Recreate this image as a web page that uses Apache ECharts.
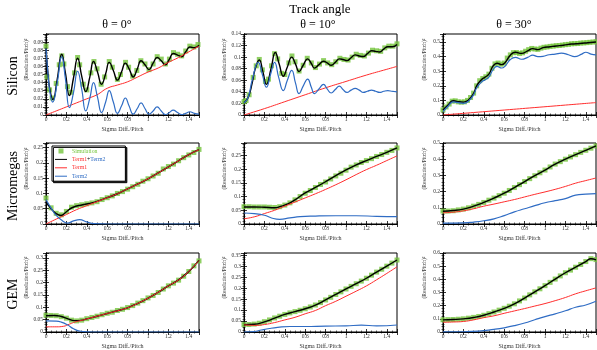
<!DOCTYPE html>
<html>
<head>
<meta charset="utf-8">
<script src="https://cdn.jsdelivr.net/npm/echarts@6/dist/echarts.min.js"></script>
<style>
html, body { margin: 0; padding: 0; background: #fff; }
#main { width: 597px; height: 350px; }
</style>
</head>
<body>
<div id="main"></div>
<script>
// ---- Silicon ----
var siTh0Sim = [[0,0.085],[0.01,0.047],[0.035,0.031],[0.06,0.021],[0.1,0.039],[0.13,0.062],[0.155,0.073],[0.175,0.063],[0.21,0.035],[0.245,0.028],[0.28,0.052],[0.31,0.071],[0.33,0.062],[0.365,0.038],[0.4,0.031],[0.44,0.052],[0.47,0.066],[0.5,0.057],[0.54,0.038],[0.575,0.047],[0.62,0.066],[0.65,0.059],[0.7,0.044],[0.73,0.05],[0.78,0.065],[0.81,0.059],[0.85,0.048],[0.89,0.055],[0.93,0.067],[0.97,0.063],[1.01,0.056],[1.05,0.063],[1.09,0.072],[1.13,0.069],[1.17,0.063],[1.21,0.069],[1.25,0.077],[1.29,0.075],[1.33,0.073],[1.37,0.079],[1.41,0.085],[1.45,0.084],[1.49,0.087]];
var siTh0Tot = [[0,0.082],[0.02,0.05],[0.04,0.03],[0.068,0.019],[0.11,0.044],[0.154,0.075],[0.19,0.052],[0.23,0.024],[0.27,0.046],[0.31,0.070],[0.35,0.048],[0.39,0.029],[0.43,0.047],[0.466,0.066],[0.505,0.053],[0.545,0.038],[0.585,0.051],[0.62,0.065],[0.66,0.055],[0.70,0.043],[0.74,0.053],[0.778,0.064],[0.815,0.057],[0.855,0.047],[0.895,0.057],[0.932,0.067],[0.97,0.062],[1.01,0.056],[1.05,0.064],[1.09,0.071],[1.13,0.067],[1.17,0.062],[1.21,0.069],[1.247,0.076],[1.29,0.074],[1.33,0.072],[1.37,0.078],[1.41,0.084],[1.455,0.083],[1.5,0.086]];
var siTh0T1 = [[0,0],[0.1,0.005],[0.2,0.010],[0.3,0.015],[0.4,0.020],[0.5,0.025],[0.6,0.033],[0.7,0.037],[0.8,0.041],[0.9,0.047],[1.0,0.053],[1.1,0.058],[1.2,0.065],[1.3,0.071],[1.4,0.078],[1.5,0.085]];
var siTh0T2 = [[0,0.082],[0.02,0.05],[0.04,0.027],[0.065,0.016],[0.11,0.04],[0.154,0.072],[0.19,0.045],[0.23,0.009],[0.27,0.028],[0.31,0.054],[0.35,0.032],[0.39,0.005],[0.43,0.021],[0.466,0.040],[0.505,0.022],[0.545,0.003],[0.585,0.016],[0.62,0.030],[0.66,0.016],[0.70,0.002],[0.74,0.011],[0.778,0.021],[0.815,0.011],[0.855,0.001],[0.895,0.008],[0.932,0.015],[0.97,0.008],[1.01,0.001],[1.05,0.005],[1.09,0.010],[1.13,0.005],[1.17,0.0005],[1.21,0.003],[1.247,0.006],[1.29,0.003],[1.33,0.0005],[1.37,0.002],[1.41,0.004],[1.455,0.002],[1.5,0.001]];

var siTh10Sim = [[0,0.023],[0.02,0.025],[0.05,0.035],[0.09,0.065],[0.12,0.085],[0.15,0.096],[0.18,0.078],[0.21,0.058],[0.24,0.062],[0.27,0.085],[0.3,0.106],[0.33,0.097],[0.37,0.072],[0.4,0.07],[0.44,0.09],[0.47,0.102],[0.5,0.092],[0.54,0.076],[0.58,0.086],[0.62,0.098],[0.66,0.09],[0.7,0.082],[0.74,0.088],[0.78,0.094],[0.82,0.09],[0.86,0.087],[0.9,0.092],[0.94,0.098],[0.98,0.096],[1.02,0.095],[1.06,0.1],[1.1,0.105],[1.14,0.103],[1.18,0.102],[1.22,0.107],[1.26,0.112],[1.3,0.111],[1.34,0.11],[1.38,0.116],[1.42,0.119],[1.46,0.119],[1.5,0.123]];
var siTh10Tot = [[0,0.021],[0.04,0.03],[0.08,0.055],[0.11,0.08],[0.15,0.095],[0.185,0.075],[0.22,0.053],[0.265,0.08],[0.307,0.108],[0.345,0.088],[0.385,0.067],[0.425,0.083],[0.468,0.100],[0.505,0.088],[0.54,0.075],[0.58,0.086],[0.624,0.097],[0.66,0.089],[0.69,0.081],[0.735,0.087],[0.78,0.093],[0.815,0.09],[0.855,0.086],[0.895,0.091],[0.935,0.097],[0.97,0.096],[1.01,0.094],[1.05,0.099],[1.09,0.104],[1.13,0.102],[1.17,0.101],[1.21,0.106],[1.25,0.111],[1.29,0.11],[1.33,0.109],[1.37,0.114],[1.41,0.118],[1.455,0.118],[1.5,0.122]];
var siTh10T1 = [[0,0],[0.2,0.011],[0.4,0.023],[0.6,0.035],[0.8,0.047],[1.0,0.058],[1.2,0.069],[1.4,0.079],[1.5,0.084]];
var siTh10T2 = [[0,0.021],[0.04,0.03],[0.08,0.06],[0.14,0.091],[0.18,0.07],[0.22,0.048],[0.26,0.07],[0.30,0.091],[0.34,0.065],[0.385,0.042],[0.425,0.06],[0.468,0.077],[0.505,0.055],[0.54,0.037],[0.58,0.05],[0.624,0.062],[0.66,0.048],[0.69,0.037],[0.735,0.045],[0.78,0.053],[0.815,0.045],[0.855,0.038],[0.895,0.044],[0.935,0.050],[0.97,0.044],[1.01,0.039],[1.05,0.043],[1.09,0.046],[1.13,0.043],[1.17,0.039],[1.21,0.041],[1.25,0.043],[1.29,0.041],[1.33,0.039],[1.37,0.041],[1.41,0.042],[1.455,0.041],[1.5,0.040]];

var siTh30Sim = [[0,0.035],[0.03,0.055],[0.06,0.075],[0.09,0.095],[0.12,0.097],[0.15,0.09],[0.18,0.088],[0.21,0.09],[0.24,0.1],[0.27,0.12],[0.3,0.15],[0.33,0.2],[0.36,0.235],[0.39,0.25],[0.42,0.262],[0.45,0.28],[0.48,0.32],[0.51,0.35],[0.54,0.356],[0.57,0.348],[0.6,0.356],[0.63,0.39],[0.66,0.412],[0.69,0.427],[0.72,0.428],[0.75,0.422],[0.78,0.426],[0.81,0.437],[0.84,0.448],[0.87,0.456],[0.9,0.452],[0.93,0.45],[0.96,0.458],[0.99,0.464],[1.02,0.466],[1.05,0.47],[1.08,0.472],[1.11,0.475],[1.14,0.476],[1.17,0.479],[1.2,0.482],[1.23,0.484],[1.26,0.488],[1.29,0.489],[1.32,0.49],[1.35,0.493],[1.38,0.494],[1.41,0.496],[1.44,0.498],[1.47,0.5],[1.5,0.502]];
var siTh30Tot = [[0,0.034],[0.05,0.068],[0.1,0.098],[0.134,0.093],[0.2,0.088],[0.25,0.103],[0.3,0.148],[0.33,0.2],[0.38,0.244],[0.41,0.258],[0.45,0.28],[0.49,0.335],[0.53,0.355],[0.575,0.345],[0.61,0.36],[0.66,0.41],[0.71,0.43],[0.77,0.422],[0.83,0.44],[0.88,0.455],[0.93,0.448],[0.98,0.462],[1.05,0.468],[1.11,0.473],[1.18,0.478],[1.26,0.486],[1.34,0.49],[1.42,0.495],[1.5,0.5]];
var siTh30T1 = [[0,0],[0.3,0.017],[0.6,0.034],[0.9,0.051],[1.2,0.068],[1.5,0.085]];
var siTh30T2 = [[0,0.023],[0.05,0.06],[0.1,0.09],[0.134,0.087],[0.2,0.08],[0.25,0.095],[0.3,0.138],[0.33,0.185],[0.38,0.228],[0.41,0.24],[0.45,0.26],[0.49,0.31],[0.53,0.333],[0.575,0.322],[0.61,0.336],[0.66,0.38],[0.71,0.395],[0.77,0.382],[0.83,0.395],[0.88,0.41],[0.93,0.4],[0.98,0.402],[1.04,0.413],[1.1,0.417],[1.16,0.424],[1.23,0.413],[1.29,0.40],[1.36,0.417],[1.40,0.43],[1.45,0.417],[1.5,0.412]];

// ---- Micromegas ----
var mmTh0Sim = [[0,0.085],[0.05,0.053],[0.1,0.035],[0.15,0.03],[0.2,0.041],[0.25,0.055],[0.3,0.06],[0.35,0.063],[0.4,0.066],[0.45,0.069],[0.5,0.073],[0.55,0.08],[0.6,0.086],[0.65,0.092],[0.7,0.1],[0.75,0.106],[0.8,0.114],[0.85,0.122],[0.9,0.13],[0.95,0.14],[1.0,0.148],[1.05,0.157],[1.1,0.166],[1.15,0.18],[1.2,0.188],[1.25,0.196],[1.3,0.207],[1.35,0.217],[1.4,0.226],[1.45,0.234],[1.5,0.244]];
var mmTh0Tot = [[0,0.072],[0.05,0.05],[0.1,0.034],[0.147,0.028],[0.2,0.04],[0.26,0.054],[0.36,0.063],[0.47,0.071],[0.6,0.086],[0.7,0.099],[0.8,0.115],[0.9,0.131],[1.0,0.148],[1.1,0.167],[1.2,0.187],[1.3,0.207],[1.4,0.227],[1.5,0.243]];
var mmTh0T1 = [[0,0],[0.1,0.016],[0.2,0.031],[0.3,0.047],[0.4,0.06],[0.5,0.073],[0.6,0.086],[0.7,0.099],[0.8,0.115],[0.9,0.131],[1.0,0.148],[1.1,0.167],[1.2,0.187],[1.3,0.207],[1.4,0.227],[1.5,0.243]];
var mmTh0T2 = [[0,0.08],[0.05,0.052],[0.1,0.028],[0.16,0.011],[0.21,0.003],[0.27,0.01],[0.33,0.014],[0.4,0.007],[0.47,0.001],[0.6,0],[1.5,0]];

var mmTh10Sim = [[0,0.063],[0.05,0.063],[0.1,0.062],[0.15,0.062],[0.2,0.062],[0.25,0.061],[0.3,0.06],[0.35,0.063],[0.4,0.069],[0.45,0.077],[0.5,0.088],[0.55,0.1],[0.6,0.112],[0.65,0.122],[0.7,0.133],[0.75,0.144],[0.8,0.153],[0.85,0.164],[0.9,0.175],[0.95,0.185],[1.0,0.196],[1.05,0.207],[1.1,0.215],[1.15,0.224],[1.2,0.231],[1.25,0.238],[1.3,0.246],[1.35,0.253],[1.4,0.261],[1.45,0.268],[1.5,0.277]];
var mmTh10Tot = [[0,0.062],[0.1,0.062],[0.2,0.061],[0.3,0.059],[0.36,0.064],[0.43,0.073],[0.5,0.088],[0.6,0.113],[0.7,0.133],[0.8,0.154],[0.9,0.176],[1.0,0.197],[1.1,0.215],[1.2,0.231],[1.3,0.246],[1.4,0.261],[1.5,0.277]];
var mmTh10T1 = [[0,0.019],[0.1,0.026],[0.2,0.038],[0.3,0.05],[0.4,0.065],[0.5,0.08],[0.6,0.095],[0.7,0.11],[0.8,0.126],[0.9,0.143],[1.0,0.161],[1.1,0.18],[1.2,0.198],[1.3,0.214],[1.4,0.231],[1.5,0.248]];
var mmTh10T2 = [[0,0.04],[0.1,0.038],[0.2,0.032],[0.27,0.022],[0.35,0.017],[0.45,0.022],[0.55,0.027],[0.7,0.029],[0.9,0.03],[1.1,0.03],[1.3,0.028],[1.5,0.027]];

var mmTh30Sim = [[0,0.08],[0.05,0.08],[0.1,0.082],[0.15,0.087],[0.2,0.092],[0.25,0.1],[0.3,0.11],[0.35,0.121],[0.4,0.133],[0.45,0.147],[0.5,0.16],[0.55,0.175],[0.6,0.19],[0.65,0.207],[0.7,0.225],[0.75,0.243],[0.8,0.262],[0.85,0.28],[0.9,0.298],[0.95,0.316],[1.0,0.333],[1.05,0.352],[1.1,0.37],[1.15,0.385],[1.2,0.4],[1.25,0.414],[1.3,0.428],[1.35,0.442],[1.4,0.455],[1.45,0.468],[1.5,0.482]];
var mmTh30Tot = [[0,0.079],[0.1,0.083],[0.2,0.092],[0.3,0.11],[0.4,0.133],[0.5,0.16],[0.6,0.19],[0.7,0.225],[0.8,0.262],[0.9,0.298],[1.0,0.333],[1.1,0.37],[1.2,0.4],[1.3,0.428],[1.4,0.455],[1.5,0.482]];
var mmTh30T1 = [[0,0.069],[0.1,0.073],[0.2,0.081],[0.3,0.094],[0.4,0.11],[0.5,0.123],[0.6,0.137],[0.7,0.151],[0.8,0.167],[0.9,0.183],[1.0,0.198],[1.1,0.214],[1.2,0.232],[1.3,0.252],[1.4,0.268],[1.5,0.284]];
var mmTh30T2 = [[0,0.006],[0.1,0.006],[0.2,0.007],[0.3,0.012],[0.4,0.02],[0.5,0.032],[0.6,0.052],[0.7,0.075],[0.8,0.094],[0.9,0.113],[1.0,0.131],[1.1,0.144],[1.2,0.157],[1.3,0.178],[1.4,0.184],[1.5,0.187]];

// ---- GEM ----
var gemTh0Sim = [[0,0.068],[0.05,0.067],[0.1,0.066],[0.15,0.062],[0.2,0.056],[0.25,0.048],[0.3,0.045],[0.35,0.048],[0.4,0.054],[0.45,0.059],[0.5,0.064],[0.55,0.07],[0.6,0.076],[0.65,0.08],[0.7,0.087],[0.75,0.092],[0.8,0.099],[0.85,0.107],[0.9,0.117],[0.95,0.127],[1.0,0.138],[1.05,0.148],[1.1,0.16],[1.15,0.174],[1.2,0.187],[1.25,0.198],[1.3,0.21],[1.35,0.226],[1.4,0.245],[1.45,0.268],[1.5,0.288]];
var gemTh0Tot = [[0,0.066],[0.08,0.067],[0.15,0.063],[0.21,0.054],[0.28,0.046],[0.34,0.047],[0.4,0.053],[0.5,0.064],[0.6,0.075],[0.7,0.086],[0.8,0.098],[0.9,0.116],[1.0,0.137],[1.1,0.161],[1.2,0.187],[1.3,0.211],[1.4,0.245],[1.5,0.29]];
var gemTh0T1 = [[0,0.021],[0.1,0.021],[0.17,0.023],[0.23,0.032],[0.29,0.041],[0.35,0.047],[0.4,0.053],[0.5,0.064],[0.6,0.075],[0.7,0.086],[0.8,0.098],[0.9,0.116],[1.0,0.137],[1.1,0.161],[1.2,0.187],[1.3,0.211],[1.4,0.245],[1.5,0.29]];
var gemTh0T2 = [[0,0.045],[0.1,0.044],[0.15,0.04],[0.21,0.029],[0.27,0.013],[0.34,0.003],[0.4,0.001],[0.5,0],[1.5,0]];

var gemTh10Sim = [[0,0.034],[0.05,0.034],[0.1,0.036],[0.15,0.04],[0.2,0.047],[0.25,0.055],[0.3,0.064],[0.35,0.072],[0.4,0.08],[0.45,0.087],[0.5,0.093],[0.55,0.099],[0.6,0.106],[0.65,0.114],[0.7,0.123],[0.75,0.134],[0.8,0.146],[0.85,0.158],[0.9,0.171],[0.95,0.183],[1.0,0.196],[1.05,0.208],[1.1,0.22],[1.15,0.232],[1.2,0.245],[1.25,0.259],[1.3,0.273],[1.35,0.286],[1.4,0.3],[1.45,0.314],[1.5,0.328]];
var gemTh10Tot = [[0,0.033],[0.1,0.035],[0.2,0.046],[0.3,0.063],[0.4,0.08],[0.5,0.093],[0.6,0.106],[0.7,0.122],[0.8,0.146],[0.9,0.171],[1.0,0.196],[1.1,0.22],[1.2,0.245],[1.3,0.273],[1.4,0.3],[1.5,0.328]];
var gemTh10T1 = [[0,0.033],[0.1,0.03],[0.2,0.034],[0.3,0.043],[0.4,0.055],[0.5,0.067],[0.6,0.083],[0.7,0.098],[0.8,0.12],[0.9,0.14],[1.0,0.163],[1.1,0.186],[1.2,0.21],[1.3,0.238],[1.4,0.267],[1.5,0.297]];
var gemTh10T2 = [[0,0],[0.1,0.002],[0.17,0.009],[0.25,0.016],[0.33,0.021],[0.45,0.025],[0.6,0.025],[0.8,0.027],[1.0,0.028],[1.15,0.031],[1.3,0.028],[1.5,0.032]];

var gemTh30Sim = [[0,0.093],[0.05,0.094],[0.1,0.095],[0.15,0.097],[0.2,0.1],[0.25,0.105],[0.3,0.111],[0.35,0.118],[0.4,0.127],[0.45,0.139],[0.5,0.152],[0.55,0.166],[0.6,0.18],[0.65,0.196],[0.7,0.214],[0.75,0.236],[0.8,0.258],[0.85,0.282],[0.9,0.305],[0.95,0.328],[1.0,0.352],[1.05,0.377],[1.1,0.402],[1.15,0.426],[1.2,0.45],[1.25,0.47],[1.3,0.492],[1.35,0.513],[1.4,0.535],[1.45,0.557],[1.5,0.55]];
var gemTh30Tot = [[0,0.092],[0.1,0.095],[0.2,0.1],[0.3,0.11],[0.4,0.127],[0.5,0.152],[0.6,0.18],[0.7,0.213],[0.8,0.258],[0.9,0.305],[1.0,0.352],[1.1,0.402],[1.2,0.45],[1.3,0.492],[1.4,0.535],[1.45,0.556],[1.5,0.548]];
var gemTh30T1 = [[0,0.074],[0.1,0.076],[0.2,0.08],[0.3,0.092],[0.4,0.109],[0.5,0.123],[0.6,0.142],[0.7,0.16],[0.8,0.178],[0.9,0.197],[1.0,0.216],[1.1,0.238],[1.2,0.262],[1.3,0.29],[1.4,0.313],[1.5,0.335]];
var gemTh30T2 = [[0,0.001],[0.2,0.002],[0.35,0.006],[0.5,0.02],[0.6,0.032],[0.7,0.048],[0.8,0.068],[0.9,0.093],[1.0,0.117],[1.1,0.138],[1.2,0.161],[1.3,0.188],[1.4,0.205],[1.5,0.233]];

var detectors = ['Silicon', 'Micromegas', 'GEM'];
var angles = ['θ = 0°', 'θ = 10°', 'θ = 30°'];
var yMax = [[0.1, 0.14, 0.555], [0.265, 0.295, 0.5], [0.32, 0.36, 0.6]];
var yStep = [[0.01, 0.02, 0.1], [0.05, 0.05, 0.1], [0.05, 0.05, 0.1]];
var yTopLabel = [[false, true, false], [false, false, true], [false, false, true]];

var panels = [
    [[siTh0Sim, siTh0Tot, siTh0T1, siTh0T2], [siTh10Sim, siTh10Tot, siTh10T1, siTh10T2], [siTh30Sim, siTh30Tot, siTh30T1, siTh30T2]],
    [[mmTh0Sim, mmTh0Tot, mmTh0T1, mmTh0T2], [mmTh10Sim, mmTh10Tot, mmTh10T1, mmTh10T2], [mmTh30Sim, mmTh30Tot, mmTh30T1, mmTh30T2]],
    [[gemTh0Sim, gemTh0Tot, gemTh0T1, gemTh0T2], [gemTh10Sim, gemTh10Tot, gemTh10T1, gemTh10T2], [gemTh30Sim, gemTh30Tot, gemTh30T1, gemTh30T2]]
];

var FONT = '"Liberation Serif", "DejaVu Serif", serif';
var GREEN = '#74c43c', RED = '#ff2d2d', BLUE = '#2f6cc4';
var colLeft = [46, 244, 443];
var rowTop = [34, 143, 253];
var W = 153, H = 81;

var grids = [], xAxes = [], yAxes = [], series = [], graphics = [];

function tickStyle() {
    return { show: true, inside: true, length: 3, lineStyle: { color: '#000', width: 0.8 } };
}
function minorStyle(n) {
    return { show: true, splitNumber: n, length: 1.5, lineStyle: { color: '#000', width: 0.6 } };
}

for (var r = 0; r < 3; r++) {
    for (var c = 0; c < 3; c++) {
        var g = r * 3 + c;
        var ymax = yMax[r][c], ystep = yStep[r][c];
        grids.push({
            left: colLeft[c], top: rowTop[r], width: W, height: H,
            show: true, borderColor: '#000', borderWidth: 1, backgroundColor: '#fff'
        });
        xAxes.push({
            gridIndex: g, type: 'value', position: 'bottom', min: 0, max: 1.5, interval: 0.2,
            name: 'Sigma Diff./Pitch', nameLocation: 'middle', nameGap: 11,
            nameTextStyle: { fontFamily: FONT, fontSize: 6, color: '#333' },
            axisLine: { lineStyle: { color: '#000', width: 1 } },
            axisTick: tickStyle(),
            minorTick: minorStyle(4),
            axisLabel: { fontFamily: FONT, fontSize: 5.5, color: '#333', margin: 2, showMaxLabel: false },
            splitLine: { show: false }
        });
        xAxes.push({
            gridIndex: g, type: 'value', position: 'top', min: 0, max: 1.5, interval: 0.2,
            axisLine: { lineStyle: { color: '#000', width: 1 } },
            axisTick: tickStyle(),
            minorTick: minorStyle(4),
            axisLabel: { show: false },
            splitLine: { show: false }
        });
        yAxes.push({
            gridIndex: g, type: 'value', position: 'left', min: 0, max: ymax, interval: ystep,
            name: '(Resolution/Pitch)²', nameLocation: 'middle', nameGap: 15,
            nameTextStyle: { fontFamily: FONT, fontSize: 5.5, color: '#333', padding: [0, 0, 0, 30] },
            axisLine: { lineStyle: { color: '#000', width: 1 } },
            axisTick: tickStyle(),
            minorTick: minorStyle(5),
            axisLabel: { fontFamily: FONT, fontSize: 5.5, color: '#333', margin: 3, showMaxLabel: yTopLabel[r][c] },
            splitLine: { show: false }
        });
        yAxes.push({
            gridIndex: g, type: 'value', position: 'right', min: 0, max: ymax, interval: ystep,
            axisLine: { lineStyle: { color: '#000', width: 1 } },
            axisTick: tickStyle(),
            minorTick: minorStyle(5),
            axisLabel: { show: false },
            splitLine: { show: false }
        });

        var p = panels[r][c];
        var xi = 2 * g, yi = 2 * g;
        series.push({
            name: 'Simulation', type: 'scatter', xAxisIndex: xi, yAxisIndex: yi,
            data: p[0], symbol: 'rect', symbolSize: 5, itemStyle: { color: GREEN }
        });
        series.push({
            name: 'Term1+Term2', type: 'line', xAxisIndex: xi, yAxisIndex: yi,
            data: p[1], symbol: 'none', smooth: 0.5, lineStyle: { color: '#000', width: 1.4 }, itemStyle: { color: '#000' }
        });
        series.push({
            name: 'Term1', type: 'line', xAxisIndex: xi, yAxisIndex: yi,
            data: p[2], symbol: 'none', smooth: 0.5, lineStyle: { color: RED, width: 1 }, itemStyle: { color: RED }
        });
        series.push({
            name: 'Term2', type: 'line', xAxisIndex: xi, yAxisIndex: yi,
            data: p[3], symbol: 'none', smooth: 0.5, lineStyle: { color: BLUE, width: 1.2 }, itemStyle: { color: BLUE }
        });
    }
}

// titles
var colCenter = [117, 318, 514];
graphics.push({
    type: 'text', x: 320, y: 10,
    style: { text: 'Track angle', font: '13px ' + FONT, fill: '#000', textAlign: 'center', textVerticalAlign: 'middle', align: 'center', verticalAlign: 'middle' }
});
for (var i = 0; i < 3; i++) {
    graphics.push({
        type: 'text', x: colCenter[i], y: 25,
        style: { text: angles[i], font: '12px ' + FONT, fill: '#000', textAlign: 'center', textVerticalAlign: 'middle', align: 'center', verticalAlign: 'middle' }
    });
}
var rowCenter = [76, 186, 294];
for (var j = 0; j < 3; j++) {
    graphics.push({
        type: 'text', x: 13, y: rowCenter[j], rotation: Math.PI / 2,
        style: { text: detectors[j], font: '14px ' + FONT, fill: '#000', textAlign: 'center', textVerticalAlign: 'middle', align: 'center', verticalAlign: 'middle' }
    });
}

var LINE_ICON = 'path://M0,0H12V1H0Z';
var chart = echarts.init(document.getElementById('main'));
chart.setOption({
    animation: false,
    backgroundColor: '#fff',
    grid: grids,
    xAxis: xAxes,
    yAxis: yAxes,
    series: series,
    graphic: graphics,
    legend: {
        left: 52, top: 146, orient: 'vertical',
        data: [
            { name: 'Simulation', icon: 'path://M0,0H1V1H0Z' },
            { name: 'Term1+Term2', icon: LINE_ICON },
            { name: 'Term1', icon: LINE_ICON },
            { name: 'Term2', icon: LINE_ICON }
        ],
        itemWidth: 12, itemHeight: 5, itemGap: 2.4,
        padding: [2, 20, 2, 3],
        backgroundColor: '#fff', borderColor: '#000', borderWidth: 1,
        shadowColor: 'rgba(0,0,0,0.9)', shadowBlur: 0, shadowOffsetX: 1.5, shadowOffsetY: 1.5,
        selectedMode: false,
        formatter: function(name) {
            if (name === 'Simulation') return '{g|Simulation}';
            if (name === 'Term1+Term2') return '{r|Term1}{k|+}{b|Term2}';
            if (name === 'Term1') return '{r|Term1}';
            return '{b|Term2}';
        },
        textStyle: {
            fontFamily: FONT, fontSize: 5.8,
            rich: {
                g: { color: GREEN, fontFamily: FONT, fontSize: 5.8 },
                r: { color: RED, fontFamily: FONT, fontSize: 5.8 },
                k: { color: '#000', fontFamily: FONT, fontSize: 5.8 },
                b: { color: BLUE, fontFamily: FONT, fontSize: 5.8 }
            }
        }
    }
});
</script>
</body>
</html>
